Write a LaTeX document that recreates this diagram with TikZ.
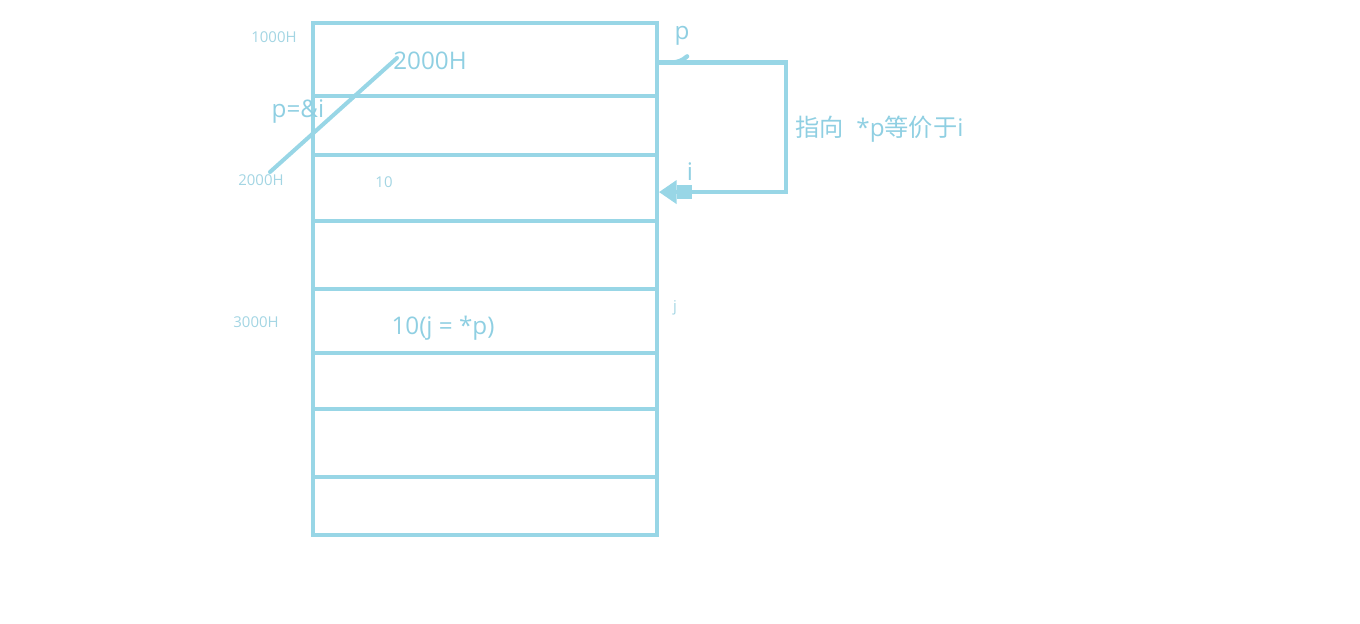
\documentclass[tikz,border=0pt]{standalone}
\usepackage{fontspec}
\setmainfont{Open Sans}
\newfontfamily\cjkfont{Noto Sans CJK SC}
\usetikzlibrary{positioning, arrows.meta, calc}
\definecolor{memblue}{HTML}{98D6E6}
\definecolor{memtext}{HTML}{8FCFE2}
\definecolor{addrtext}{HTML}{A3D5E3}
\begin{document}
\begin{tikzpicture}[
		x=0.02cm, y=-0.02cm,
		cell/.style={rectangle, draw=memblue, line width=2.3pt, inner sep=0pt,
			minimum width=6.88cm, anchor=north west},
		link/.style={draw=memblue, line width=2.3pt},
		bigtext/.style={font=\fontsize{13.8}{15}\selectfont, text=memtext, inner sep=0pt},
		addr/.style={font=\fontsize{8.5}{10}\selectfont, text=addrtext, inner sep=0pt},
		]
		\useasboundingbox (0,0) rectangle (1360,623);
		
		% memory cells (top y / height)
		\foreach \n/\t/\h in {1/21/73, 2/94/59, 3/153/66, 4/219/68, 5/287/64, 6/351/56, 7/407/68, 8/475/58}
		\node[cell, minimum height=\h*0.02cm] (c\n) at (311,\t) {};
		
		% addresses on the left
		\node[addr] (a1000) at (274,37) {1000H};
		\node[addr] (a2000) at (261,180) {2000H};
		\node[addr] (a3000) at (256,322) {3000H};
		
		% cell contents
		\node[bigtext] (pval) at (430,61) {2000H};
		\node[addr] (ival) at (384,182) {10};
		\node[bigtext] (jval) at (443,328) {10(j = *p)};
		
		% p = &i pointer line
		\node[bigtext] (assign) at (298,112) {p=\&i};
		\coordinate (pfrom) at (270,172);
		\coordinate (pto) at (397,58);
		\draw[link, line cap=round] (pfrom) -- (pto);
		
		% variable names on the right
		\node[bigtext] (pname) at (682,36) {p};
		\node[bigtext] (iname) at (690,172) {i};
		\node[addr] (jname) at (675,308) {j};
		
		% p points to i
		\coordinate (bend) at (786,125);
		\draw[link, -{Triangle[width=13pt, length=10pt]}]
		([yshift=-1.7pt]c1.east) -| (bend) |- ([yshift=-2.3pt]c3.east);
		\draw[link, line width=7.5pt] ([xshift=10pt, yshift=-2.3pt]c3.east) -- ([xshift=19pt, yshift=-2.3pt]c3.east);
		\draw[link, line width=2.5pt, line cap=round] ([xshift=7pt, yshift=-1.7pt]c1.east) to[bend right=20] ([xshift=16pt, yshift=1.8pt]c1.east);
		
		\node[bigtext, anchor=west] (points) at (795,129) {{\cjkfont 指向}\ \ *p{\cjkfont 等价于}i};
	\end{tikzpicture}
\end{document}
